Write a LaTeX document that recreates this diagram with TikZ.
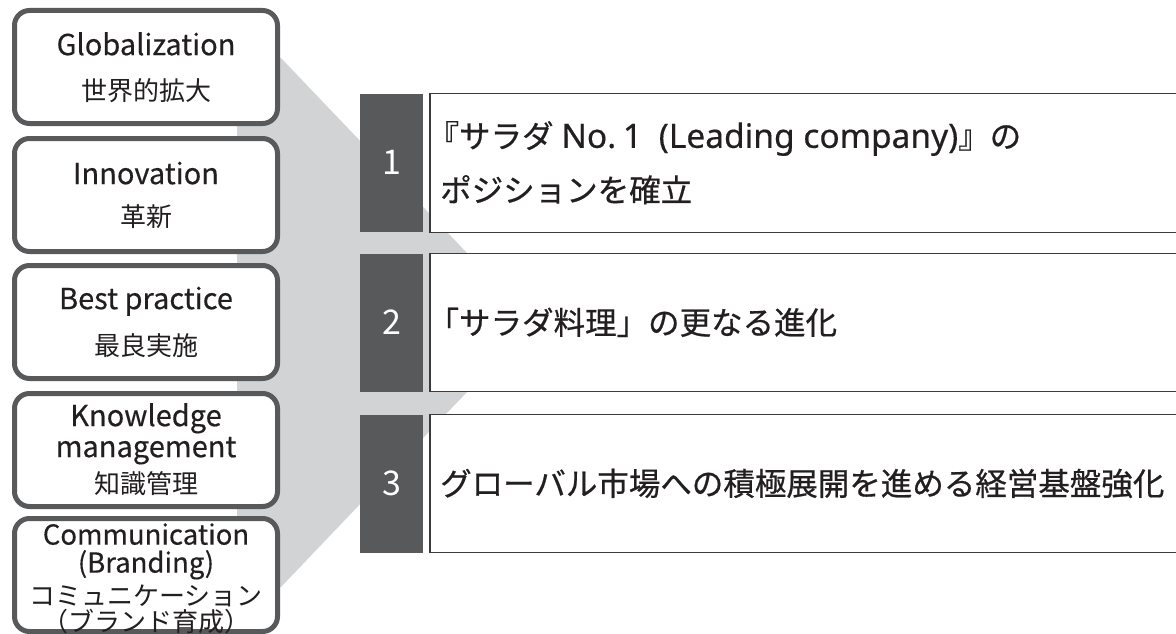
\documentclass[tikz,border=0pt]{standalone}
\usepackage{fontspec}
\setmainfont{Noto Sans CJK JP}
\newfontfamily\jpmed{Noto Sans CJK JP}[FakeBold=0.6]
\newfontfamily\enreg{Noto Sans CJK JP}[FakeBold=0.35]
\newfontfamily\latmed{Noto Sans}[FakeBold=0.4]
\definecolor{boxline}{HTML}{58595B}
\definecolor{numfill}{HTML}{58595B}
\definecolor{funnel}{HTML}{D1D3D4}
\definecolor{ink}{HTML}{231F20}
\definecolor{tline}{HTML}{3A3A3A}
\tikzset{
  lbox/.style={draw=boxline, line width=5pt, rounded corners=15pt, fill=white,
    minimum width=263pt, minimum height=113pt, inner sep=0pt},
  en/.style={font=\enreg\fontsize{29}{30}\selectfont, text=ink, inner sep=0pt,
    text height=20.3pt, text depth=0pt},
  ensm/.style={font=\enreg\fontsize{27.5}{28}\selectfont, text=ink, inner sep=0pt,
    text height=19.2pt, text depth=0pt},
  jp/.style={font=\fontsize{26}{28}\selectfont, text=ink, inner sep=0pt,
    text height=20.8pt, text depth=1.3pt},
  numbox/.style={fill=numfill, minimum width=63pt, minimum height=138pt, inner sep=0pt,
    text=white, font=\fontsize{34}{36}\selectfont, text height=23.8pt, text depth=0pt},
  tbox/.style={fill=white, minimum width=746pt, minimum height=138pt, inner sep=0pt},
  tedge/.style={draw=tline, line width=1.4pt},
  rt/.style={font=\jpmed\fontsize{31.5}{34}\selectfont, text=ink, inner sep=0pt,
    text height=25.2pt, text depth=1.5pt, anchor=west}
}
\begin{document}
\begin{tikzpicture}[x=1pt,y=-1pt]
\useasboundingbox (0,0) rectangle (1176,634);
% funnel
\fill[funnel] (237,58) -- (281,58) -- (467,253) -- (467,392) -- (281,587) -- (237,587) -- cycle;
% left boxes
\node[lbox] (G) at (146,67) {};
\node[lbox] (I) at (146,195) {};
\node[lbox] (B) at (146,322) {};
\node[lbox] (K) at (146,450) {};
\node[lbox] (C) at (146,575) {};
\node[en] (G1) at (146,45) {Globalization};
\node[jp] (G2) at (146,91) {世界的拡大};
\node[en] (I1) at (146,174) {Innovation};
\node[jp] (I2) at (146,217) {革新};
\node[en] (B1) at (146,299) {Best practice};
\node[jp] (B2) at (146,346) {最良実施};
\node[en] (K1) at (146,416) {Knowledge};
\node[en] (K2) at (146,447) {management};
\node[jp] (K3) at (146,484) {知識管理};
\node[ensm] (C1) at (146,535) {Communication};
\node[ensm] (C2) at (146,563) {(Branding)};
\node[jp] (C3) at (146,596) {コミュニケーション};
\node[jp] (C4) at (146,622) {（ブランド育成）};
% number boxes
\node[numbox] (n1) at (391.5,163) {1};
\node[numbox] (n2) at (391.5,322.5) {2};
\node[numbox] (n3) at (391.5,483.5) {3};
% text boxes
\node[tbox] (t1) at (803,163) {};
\node[tbox] (t2) at (803,322.5) {};
\node[tbox] (t3) at (803,483.5) {};
\foreach \t in {t1,t2,t3}{
  \draw[tedge] (\t.north east) -- (\t.north west) -- (\t.south west) -- (\t.south east);
}
\node[rt] (r1a) at (440,136) {\hspace*{-0.4em}『サラダ\hspace{0.25em}{\latmed\fontsize{33.5}{34}\selectfont No.\hspace{0.2em}1\hspace{0.5em}(Leading company)}』の};
\node[rt] (r1b) at (440,190) {ポジションを確立};
\node[rt] (r2) at (440,322.5) {\hspace*{-0.4em}「サラダ料理」の更なる進化};
\node[rt] (r3) at (440,483.5) {グローバル市場への積極展開を進める経営基盤強化};
\end{tikzpicture}
\end{document}
